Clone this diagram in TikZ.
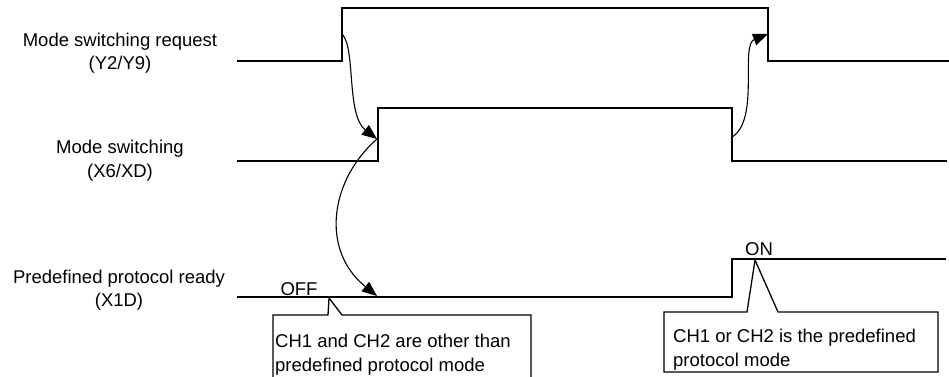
\documentclass[tikz,border=0pt]{standalone}
\usepackage{fontspec}
\setmainfont{Liberation Sans}
\usetikzlibrary{arrows.meta}

\tikzset{
  wave/.style={line width=1.3pt, line join=miter},
  cause/.style={line width=1.1pt, -{Triangle[length=15pt,width=12pt]}},
  callout/.style={line width=1.3pt, line join=miter},
  siglabel/.style={align=center, inner sep=0pt},
  notetext/.style={align=left, inner sep=0pt, anchor=north west}
}

\begin{document}
\begin{tikzpicture}[x=1pt, y=-1pt, font=\fontsize{18.5}{23.5}\selectfont]
        % \draw[help lines, gray!50, very thin] (0,0) grid[step=50] (949,376);
        \useasboundingbox (0,0) rectangle (949,376);

        % signal names
        \node[siglabel] (req) at (120,53) {Mode switching request\\(Y2/Y9)};
        \node[siglabel] (sw) at (120,160.5) {Mode switching\\(X6/XD)};
        \node[siglabel] (rdy) at (119,290) {Predefined protocol ready\\(X1D)};

        % edges the arrows start and end on
        \coordinate (req-on) at (342,34);
        \coordinate (req-off) at (768,34);
        \coordinate (sw-on) at (377,139);
        \coordinate (sw-off) at (732,137);
        \coordinate (rdy-hit) at (377,296);

        % waveforms
        \draw[wave] (237,61) -- (342,61) -- (342,8) -- (768,8) -- (768,61) -- (949,61);
        \draw[wave] (237,161) -- (378,161) -- (378,108) -- (732,108) -- (732,161) -- (947,161);
        \draw[wave] (237,297) -- (732,297) -- (732,259) -- (946,259);

        \node (off) at (299,289) {OFF};
        \node (on) at (759,249) {ON};

        % cause -> effect
        \draw[cause] (req-on) .. controls (356,48) and (346,115) .. (sw-on);
        \draw[cause] (sw-on) .. controls (330,180) and (320,250) .. (rdy-hit);
        \draw[cause] (sw-off) .. controls (760,120) and (740,45) .. (req-off);

        % notes
        \draw[callout] (273,377) -- (273,315) -- (328,315) -- (329,298) -- (342,315) -- (531,315) -- (531,377);
        \node[notetext] (note-off) at (275,334) {CH1 and CH2 are other than\\predefined protocol mode};

        \draw[callout] (664,312) -- (747,312) -- (755,260) -- (778,312) -- (938,312) -- (938,372) -- (664,372) -- cycle;
        \node[notetext] (note-on) at (673,329) {CH1 or CH2 is the predefined\\protocol mode};
      \end{tikzpicture}
\end{document}
